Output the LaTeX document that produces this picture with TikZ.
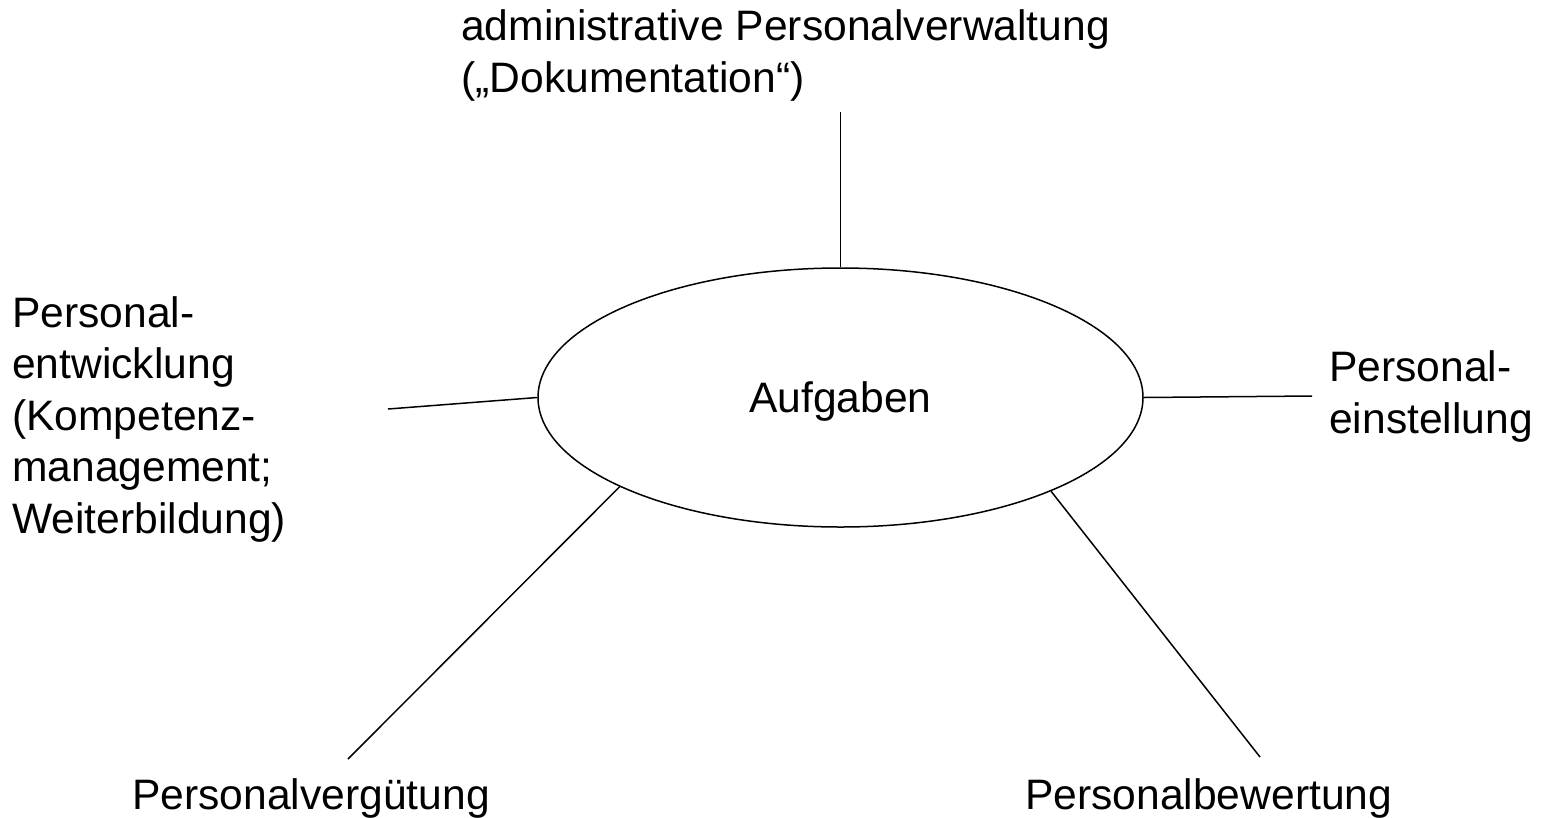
\documentclass[tikz,border=0pt]{standalone}
\usepackage{fontspec}
\setmainfont{Liberation Sans}
\usetikzlibrary{shapes.geometric}
\begin{document}
\begin{tikzpicture}[x=1pt,y=-1pt,
  lbl/.style={inner sep=0pt,anchor=base west,align=left,
    font=\fontsize{42.6}{51.5}\selectfont},
  hub/.style={draw,ellipse,line width=1.5pt,inner sep=0pt,
    minimum width=605pt,minimum height=259pt,
    text height=30pt,text depth=0pt,font=\fontsize{42.6}{51.5}\selectfont},
  spoke/.style={line width=1.5pt}]
\useasboundingbox (0,0) rectangle (1542,817);

% central task ellipse
\node[hub] (auf) at (840.5,397.5) {Aufgaben};

% surrounding task areas (anchored at the baseline of their last line)
\node[lbl] (doku) at (461,92) {administrative Personalverwaltung\\(„Dokumentation“)};
\node[lbl] (entw) at (12,533) {Personal-\\entwicklung\\(Kompetenz-\\management;\\Weiterbildung)};
\node[lbl] (einst) at (1329,433) {Personal-\\einstellung};
\node[lbl] (verg) at (132,809) {Personalvergütung};
\node[lbl] (bew) at (1025,809) {Personalbewertung};

% free ends of the spokes
\coordinate (tTop) at (840.5,112);
\coordinate (tLeft) at (388,409);
\coordinate (tRight) at (1312,396);
\coordinate (tLL) at (348,759);
\coordinate (tLR) at (1260,757);

\draw[spoke] (tTop) -- (auf.north);
\draw[spoke] (tLeft) -- (auf.180);
\draw[spoke] (tRight) -- (auf.0);
\draw[spoke] (tLL) -- (auf.202.7);
\draw[spoke] (tLR) -- (auf.336.8);
\end{tikzpicture}
\end{document}
